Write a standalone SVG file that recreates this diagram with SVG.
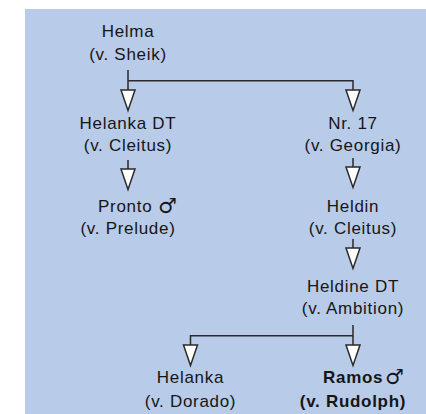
<svg xmlns="http://www.w3.org/2000/svg" width="426" height="414" viewBox="0 0 426 414">
<style>
  text { font-family: "Liberation Sans", Arial, sans-serif; font-size: 17px; fill: #161616; letter-spacing: 0.7px; }
  .c { text-anchor: middle; }
  .b { font-weight: bold; }
  .sym { font-family: "DejaVu Sans", sans-serif; font-size: 21px; letter-spacing: 0; font-weight: normal; }
  .ln { fill: none; stroke: #2a2a2a; stroke-width: 1.5; }
  .ah { fill: #ffffff; stroke: #2a2a2a; stroke-width: 1.5; stroke-linejoin: miter; }
</style>
<defs>
  <path id="tri" class="ah" d="M -7 0 L 7 0 L 0 20.5 Z"/>
</defs>
<rect x="25" y="9" width="401" height="405" fill="#b8cbe8"/>

<g id="connectors">
  <path class="ln" d="M 128 70 V 90 M 128 80.7 H 353 V 90"/>
  <use href="#tri" x="128" y="90"/>
  <use href="#tri" x="353" y="90"/>
  <path class="ln" d="M 128 160 V 169"/>
  <use href="#tri" x="128" y="169"/>
  <path class="ln" d="M 353 158 V 167"/>
  <use href="#tri" x="353" y="167"/>
  <path class="ln" d="M 353 239 V 248"/>
  <use href="#tri" x="353" y="248"/>
  <path class="ln" d="M 353 325 V 345 M 353 335.7 H 190.5 V 345"/>
  <use href="#tri" x="190.5" y="345"/>
  <use href="#tri" x="353" y="345"/>
</g>

<g id="helma">
  <text class="c" x="128" y="37">Helma</text>
  <text class="c" x="128" y="60">(v. Sheik)</text>
</g>
<g id="helanka-dt">
  <text class="c" x="128" y="128.5">Helanka DT</text>
  <text class="c" x="128" y="151">(v. Cleitus)</text>
</g>
<g id="nr17">
  <text class="c" x="353" y="128.5">Nr. 17</text>
  <text class="c" x="353" y="151">(v. Georgia)</text>
</g>
<g id="pronto">
  <text x="98" y="211.7">Pronto</text>
  <text class="sym" x="158" y="212.5">♂</text>
  <text class="c" x="128" y="234.3">(v. Prelude)</text>
</g>
<g id="heldin">
  <text class="c" x="353" y="211.7">Heldin</text>
  <text class="c" x="353" y="234.3">(v. Cleitus)</text>
</g>
<g id="heldine-dt">
  <text class="c" x="353" y="291.7">Heldine DT</text>
  <text class="c" x="353" y="313.8">(v. Ambition)</text>
</g>
<g id="helanka">
  <text class="c" x="190.5" y="383.3">Helanka</text>
  <text class="c" x="190.5" y="406.5">(v. Dorado)</text>
</g>
<g id="ramos">
  <text class="b" x="323" y="383.3">Ramos</text>
  <text class="sym" x="385" y="384">♂</text>
  <text class="c b" x="353" y="406.5">(v. Rudolph)</text>
</g>
</svg>
